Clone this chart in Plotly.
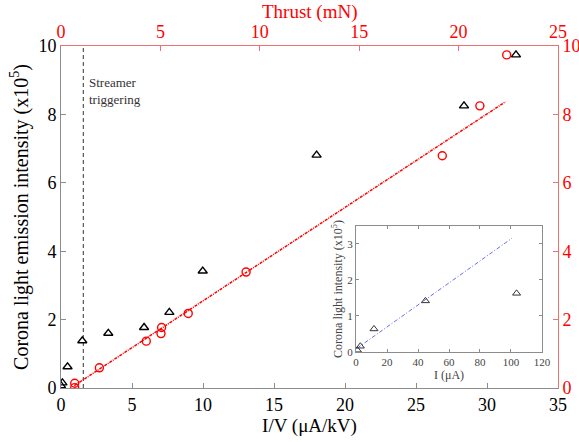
import plotly.graph_objects as go

# Main data: triangles (I/V vs light intensity)
iv_x = [0, 0.1, 0.46, 1.5, 3.33, 5.85, 7.63, 9.98, 18.0, 28.38, 32.04]
iv_y = [0.07, 0.15, 0.62, 1.38, 1.6, 1.77, 2.21, 3.42, 6.81, 8.25, 9.74]

# Circles: thrust vs light intensity
thrust_x = [0.69, 0.69, 1.93, 4.29, 5.03, 5.06, 6.4, 9.31, 19.18, 21.07, 22.42]
thrust_y = [0.01, 0.14, 0.59, 1.37, 1.59, 1.77, 2.18, 3.39, 6.79, 8.25, 9.74]

# Linear fit for thrust data
fit_x = [0.67, 22.36]
fit_y = [0.07, 8.37]

# Streamer triggering line
streamer_x = 1.57

# Inset data
inset_x = [0.9, 2.8, 11.6, 44.8, 103.6]
inset_y = [0.05, 0.16, 0.64, 1.42, 1.63]
inset_fit_x = [0.86, 100.6]
inset_fit_y = [0.11, 3.16]

FONT = "Liberation Serif"
RED = "#ff0000"
REDLINE = "#f07070"
GRAY = "#8c8c8c"

fig = go.Figure()

fig.add_trace(go.Scatter(x=[streamer_x, streamer_x], y=[0, 10], mode="lines",
                         line=dict(color="#333333", width=1, dash="4px,3px"),
                         xaxis="x", yaxis="y", showlegend=False, hoverinfo="skip"))

fig.add_trace(go.Scatter(x=iv_x, y=iv_y, mode="markers",
                         marker=dict(symbol="triangle-up-open", size=8, color="black",
                                     line=dict(width=1.4, color="black")),
                         xaxis="x", yaxis="y", showlegend=False))

fig.add_trace(go.Scatter(x=fit_x, y=fit_y, mode="lines",
                         line=dict(color=RED, width=1.5, dash="3px,1px,1px,1px"),
                         xaxis="x2", yaxis="y2", showlegend=False))

fig.add_trace(go.Scatter(x=thrust_x, y=thrust_y, mode="markers",
                         marker=dict(symbol="circle-open", size=8, color=RED,
                                     line=dict(width=1.4, color=RED)),
                         xaxis="x2", yaxis="y2", showlegend=False))

fig.add_trace(go.Scatter(x=inset_fit_x, y=inset_fit_y, mode="lines",
                         line=dict(color="#6a6af0", width=1, dash="4px,2px,1px,2px"),
                         xaxis="x3", yaxis="y3", showlegend=False))

fig.add_trace(go.Scatter(x=inset_x, y=inset_y, mode="markers",
                         marker=dict(symbol="triangle-up-open", size=7, color="#333333",
                                     line=dict(width=1, color="#333333")),
                         xaxis="x3", yaxis="y3", showlegend=False))

main_ax = dict(showgrid=False, zeroline=False, ticks="inside", ticklen=5, automargin=False,
               showline=True, tickfont=dict(family=FONT, size=18))

fig.update_layout(
    width=579, height=442,
    margin=dict(l=61, r=21, t=46, b=54),
    plot_bgcolor="white", paper_bgcolor="white",
    font=dict(family=FONT, color="black"),
    xaxis=dict(**main_ax, range=[0, 35], dtick=5, domain=[0, 1], anchor="y",
               linecolor=GRAY, tickcolor=GRAY, tickfont_color="black",
               title=dict(text="I/V (μA/kV)", font=dict(family=FONT, size=19), standoff=3)),
    yaxis=dict(**main_ax, range=[0, 10], dtick=2, domain=[0, 1], anchor="x",
               linecolor=GRAY, tickcolor=GRAY,
               title=dict(text="Corona light emission intensity (x10<sup>5</sup>)",
                          font=dict(family=FONT, size=20), standoff=4)),
    xaxis2=dict(**main_ax, range=[0, 25], dtick=5, overlaying="x", side="top", anchor="y2",
                linecolor=REDLINE, tickcolor=REDLINE, tickfont_color=RED),
    yaxis2=dict(**main_ax, range=[0, 10], dtick=2, overlaying="y", side="right", anchor="x2",
                linecolor=REDLINE, tickcolor=REDLINE, tickfont_color=RED),
    xaxis3=dict(domain=[0.5936, 0.9678], anchor="y3", range=[0, 120], dtick=20, automargin=False,
                showgrid=False, zeroline=False, ticks="inside", ticklen=3, showline=True,
                mirror="ticks", linecolor=GRAY, tickcolor=GRAY,
                tickfont=dict(family=FONT, size=11, color="#444444"),
                title=dict(text="I (μA)", font=dict(family=FONT, size=12, color="#444444"), standoff=2)),
    yaxis3=dict(domain=[0.1053, 0.4737], anchor="x3", range=[0, 3.5], dtick=1, automargin=False,
                showgrid=False, zeroline=False, ticks="inside", ticklen=3, showline=True,
                mirror="ticks", linecolor=GRAY, tickcolor=GRAY,
                tickfont=dict(family=FONT, size=11, color="#444444"),
                title=dict(text="Corona light intensity (x10<sup>5</sup>)",
                           font=dict(family=FONT, size=12, color="#444444"), standoff=2)),
    annotations=[
        dict(x=streamer_x, y=8.67, xref="x", yref="y", xanchor="left", yanchor="middle",
             xshift=4, text="Streamer<br>triggering", showarrow=False, align="left",
             font=dict(family=FONT, size=13, color="#333333")),
        dict(x=0.5, y=1, xref="paper", yref="paper", xanchor="center", yanchor="middle",
             yshift=34, text="Thrust (mN)", showarrow=False,
             font=dict(family=FONT, size=19, color=RED)),
    ],
)

fig.write_html("out.html",
               config={"displayModeBar": False},
               post_script="document.body.style.margin='0px';document.body.style.padding='0px';")
